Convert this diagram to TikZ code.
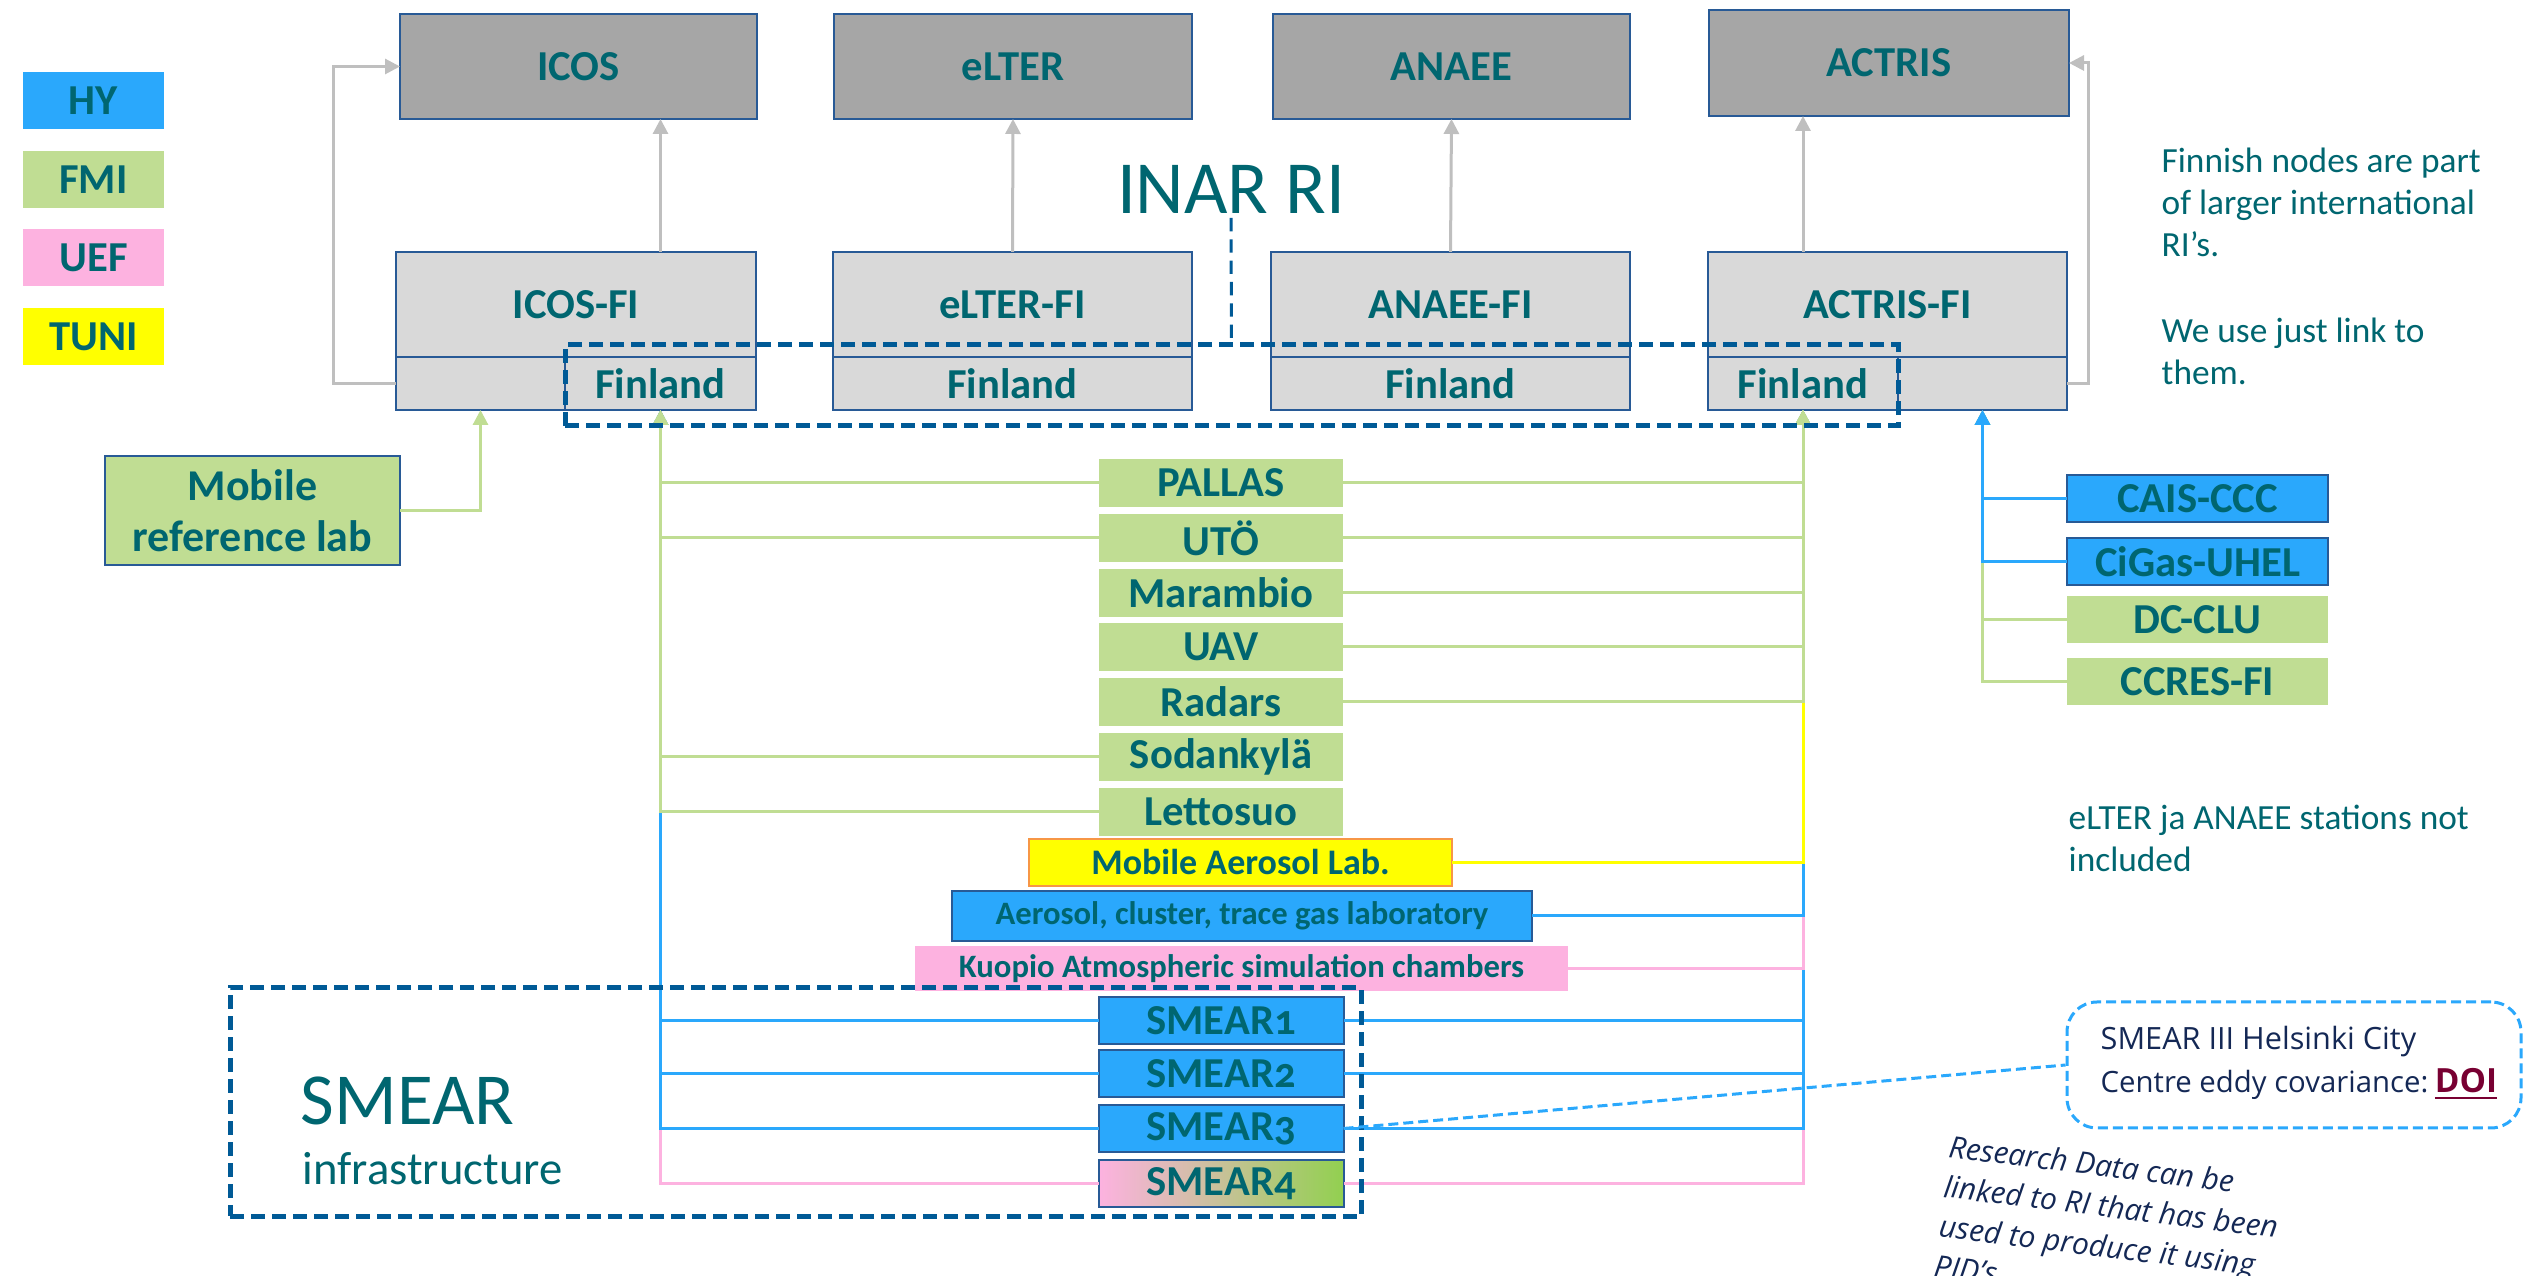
\documentclass[tikz,border=0pt]{standalone}
\usepackage{fontspec}
\setmainfont{Carlito}
\newfontfamily\osans{Open Sans}
\usetikzlibrary{arrows.meta,calc}
\definecolor{tealc}{RGB}{0,102,112}
\definecolor{hyblue}{RGB}{42,168,252}
\definecolor{fmigreen}{RGB}{192,221,147}
\definecolor{uefpink}{RGB}{253,178,224}
\definecolor{tuniyellow}{RGB}{255,255,0}
\definecolor{topgray}{RGB}{166,166,166}
\definecolor{figray}{RGB}{217,217,217}
\definecolor{navyb}{RGB}{40,90,150}
\definecolor{dashnavy}{RGB}{0,90,150}
\definecolor{linegray}{RGB}{191,191,191}
\definecolor{salmon}{RGB}{247,150,70}
\definecolor{smeargreen}{RGB}{146,208,80}
\definecolor{calltext}{RGB}{20,40,85}
\definecolor{doired}{RGB}{120,0,50}
\tikzset{
  sz/.style 2 args={minimum width=#1*0.3pt, minimum height=#2*0.3pt},
  box/.style={inner sep=0pt, outer sep=0pt, text=tealc, align=center,
    font=\bfseries\fontsize{12.8}{15}\selectfont},
  topbox/.style={box, fill=topgray, draw=navyb, line width=0.6pt},
  fibox/.style={box, fill=figray, draw=navyb, line width=0.6pt},
  stbox/.style={box, fill=fmigreen},
  hybox/.style={box, fill=hyblue, draw=navyb, line width=0.6pt},
  tip/.style={-{Triangle[length=4.5pt,width=4.5pt]}},
  gconn/.style={line width=0.9pt, draw=fmigreen, tip},
  bconn/.style={line width=0.9pt, draw=hyblue, tip},
  pconn/.style={line width=0.9pt, draw=uefpink, tip},
  yconn/.style={line width=0.9pt, draw=tuniyellow, tip},
  grconn/.style={line width=0.9pt, draw=linegray, tip},
  bigdash/.style={draw=dashnavy, line width=1.5pt, dash pattern=on 4.2pt off 2.1pt, inner sep=0pt, outer sep=0pt},
  txt/.style={text=tealc, inner sep=0pt, anchor=base west, font=\fontsize{10.6}{12.6}\selectfont},
  calltxt/.style={text=calltext, inner sep=0pt, anchor=base west, font=\osans\fontsize{9.2}{11}\selectfont},
}
\newcommand{\osf}[1]{{\addfontfeatures{Numbers=OldStyle}#1}}
\begin{document}
\begin{tikzpicture}[x=0.3pt,y=-0.3pt]
\useasboundingbox (0,0) rectangle (2526,1276);

% legend
\node[box, fill=hyblue, sz={141}{57}] (lhy) at (93.5,100.5) {HY};
\node[box, fill=fmigreen, sz={141}{57}] (lfmi) at (93.5,179.5) {FMI};
\node[box, fill=uefpink, sz={141}{57}] (luef) at (93.5,257.5) {UEF};
\node[box, fill=tuniyellow, sz={141}{57}] (ltuni) at (93.5,336.5) {TUNI};

% top boxes
\node[topbox, sz={357}{105}] (icos) at (578.5,66.5) {ICOS};
\node[topbox, sz={358}{105}] (elter) at (1013,66.5) {eLTER};
\node[topbox, sz={357}{105}] (anaee) at (1451.5,66.5) {ANAEE};
\node[topbox, sz={360}{106}] (actris) at (1889,63) {ACTRIS};

% FI boxes
\node[fibox, sz={360}{105}] (icosfi) at (576,304.5) {ICOS-FI};
\node[fibox, sz={169}{53}] (icosE) at (480.5,383.5) {};
\node[fibox, sz={191}{53}] (icosF) at (660.5,383.5) {Finland};
\node[fibox, sz={359}{105}] (elterfi) at (1012.5,304.5) {eLTER-FI};
\node[fibox, sz={359}{53}] (elterF) at (1012.5,383.5) {Finland};
\node[fibox, sz={359}{105}] (anaeefi) at (1450.5,304.5) {ANAEE-FI};
\node[fibox, sz={359}{53}] (anaeeF) at (1450.5,383.5) {Finland};
\node[fibox, sz={359}{105}] (actrisfi) at (1887.5,304.5) {ACTRIS-FI};
\node[fibox, sz={190}{53}] (actrisF) at (1803,383.5) {Finland};
\node[fibox, sz={169}{53}] (actrisE) at (1982.5,383.5) {};

% up arrows
\draw[grconn] (icosfi.north -| icosF) -- (icos.south -| icosF);
\draw[grconn] (elterfi.north) -- (elter.south);
\draw[grconn] (anaeefi.north) -- (anaee.south);
\draw[grconn] (actrisfi.north -| actrisF) -- (actris.south -| actrisF);
\draw[grconn] (icosE.west) -- ++(-63,0) |- (icos.west);
\draw[grconn] (actrisE.east) -- ++(21,0) |- (actris.east);

% INAR RI
\node[text=tealc, inner sep=0pt, anchor=base, font=\fontsize{22.5}{26}\selectfont] (inar) at (1231,214) {INAR RI};

% Mobile reference lab
\node[box, fill=fmigreen, draw=navyb, line width=0.6pt, sz={295}{109}, font=\bfseries\fontsize{13.2}{15.3}\selectfont] (mrl) at (252.5,510.5) {Mobile\\reference lab};
\draw[gconn] (mrl.east) -| (icosE.south);

% stations
\node[stbox, sz={244}{48}] (pallas) at (1221,483) {PALLAS};
\node[stbox, sz={244}{48}] (uto) at (1221,538) {UTÖ};
\node[stbox, sz={244}{48}] (marambio) at (1221,593) {Marambio};
\node[stbox, sz={244}{48}] (uav) at (1221,647) {UAV};
\node[stbox, sz={244}{48}] (radars) at (1221,702) {Radars};
\node[stbox, sz={244}{48}] (sodankyla) at (1221,757) {Sodankylä};
\node[stbox, sz={244}{48}] (lettosuo) at (1221,812) {Lettosuo};
\node[box, fill=tuniyellow, draw=salmon, line width=0.6pt, sz={423}{47}, font=\bfseries\fontsize{10.8}{13}\selectfont] (mal) at (1240.5,862.5) {Mobile Aerosol Lab.};
\node[hybox, sz={580}{50}, font=\bfseries\fontsize{9.8}{12}\selectfont] (aero) at (1242,916) {Aerosol, cluster, trace gas laboratory};
\node[box, fill=uefpink, sz={653}{45}, font=\bfseries\fontsize{9.8}{12}\selectfont] (kuopio) at (1241.5,968.5) {Kuopio Atmospheric simulation chambers};
\node[hybox, sz={245}{47}] (smear1) at (1221,1020.5) {SMEAR\osf{1}};
\node[hybox, sz={245}{47}] (smear2) at (1221,1073.5) {SMEAR\osf{2}};
\node[hybox, sz={245}{47}] (smear3) at (1221,1128.5) {SMEAR\osf{3}};
\node[box, left color=uefpink, right color=smeargreen, draw=navyb, line width=0.6pt, sz={245}{47}] (smear4) at (1221,1183.5) {SMEAR\osf{4}};

% right side RI
\node[hybox, sz={261}{47}] (cais) at (2197.5,498.5) {CAIS-CCC};
\node[hybox, sz={261}{47}] (cigas) at (2197.5,561.5) {CiGas-UHEL};
\node[stbox, sz={261}{47}] (dcclu) at (2197.5,619.5) {DC-CLU};
\node[stbox, sz={261}{47}] (ccres) at (2197.5,681.5) {CCRES-FI};

% connectors to ICOS-FI (left bus), bottom to top
\draw[pconn] (smear4.west) -| (icosF.south);
\draw[bconn] (smear3.west) -| (icosF.south);
\draw[bconn] (smear2.west) -| (icosF.south);
\draw[bconn] (smear1.west) -| (icosF.south);
\draw[gconn] (lettosuo.west) -| (icosF.south);
\draw[gconn] (sodankyla.west) -| (icosF.south);
\draw[gconn] (uto.west) -| (icosF.south);
\draw[gconn] (pallas.west) -| (icosF.south);

% connectors to ACTRIS-FI (right bus), bottom to top
\draw[pconn] (smear4.east) -| (actrisF.south);
\draw[bconn] (smear3.east) -| (actrisF.south);
\draw[bconn] (smear2.east) -| (actrisF.south);
\draw[bconn] (smear1.east) -| (actrisF.south);
\draw[pconn] (kuopio.east) -| (actrisF.south);
\draw[bconn] (aero.east) -| (actrisF.south);
\draw[yconn] (mal.east) -| (actrisF.south);
\draw[gconn] (radars.east) -| (actrisF.south);
\draw[gconn] (uav.east) -| (actrisF.south);
\draw[gconn] (marambio.east) -| (actrisF.south);
\draw[gconn] (uto.east) -| (actrisF.south);
\draw[gconn] (pallas.east) -| (actrisF.south);

% connectors to ACTRIS-FI empty cell
\draw[gconn] (ccres.west) -| (actrisE.south);
\draw[gconn] (dcclu.west) -| (actrisE.south);
\draw[bconn] (cigas.west) -| (actrisE.south);
\draw[bconn] (cais.west) -| (actrisE.south);

% dashed boxes
\node[bigdash, sz={1333}{81}] (inarbox) at (1231.5,385.5) {};
\draw[draw=dashnavy, line width=0.9pt, dash pattern=on 4pt off 2.4pt] (inar.south |- 0,218) -- (inarbox.north);
\node[bigdash, sz={1131}{229}] (smearbox) at (795.5,1102) {};
\node[text=tealc, inner sep=0pt, anchor=base west, font=\fontsize{22}{26}\selectfont] (smeart) at (300,1125) {SMEAR};
\node[text=tealc, inner sep=0pt, anchor=base west, font=\fontsize{14}{17}\selectfont] (infra) at (302,1185) {infrastructure};

% right texts
\node[txt] (n1) at (2161,173) {Finnish nodes are part};
\node[txt] (n2) at (2161,215) {of larger international};
\node[txt] (n3) at (2161,257) {RI’s.};
\node[txt] (n4) at (2161,343) {We use just link to};
\node[txt] (n5) at (2161,385) {them.};
\node[txt] (e1) at (2068,830) {eLTER ja ANAEE stations not};
\node[txt] (e2) at (2068,872) {included};

% callout
\node[draw=hyblue, line width=0.9pt, dash pattern=on 3pt off 1.5pt, rounded corners=9pt, sz={454}{126}, inner sep=0pt] (callout) at (2294,1065) {};
\node[calltxt] (c1) at (2100,1050) {SMEAR III Helsinki City};
\node[calltxt, font=\osans\fontsize{8.8}{11}\selectfont] (c2) at (2100,1093) {Centre eddy covariance:\hspace{2pt}\textcolor{doired}{\underline{\textbf{\fontsize{10}{12}\selectfont DOI}}}};
\draw[draw=hyblue, line width=0.9pt, dash pattern=on 3pt off 1.5pt] (smear3.east) -- (callout.west);

% italic rotated note
\node[text=calltext, inner sep=0pt, anchor=north west, rotate=-7, align=left,
  font=\osans\itshape\fontsize{9}{12}\selectfont] (rnote) at (1950,1134)
  {Research Data can be\\linked to RI that has been\\used to produce it using\\PID’s};
\end{tikzpicture}
\end{document}
